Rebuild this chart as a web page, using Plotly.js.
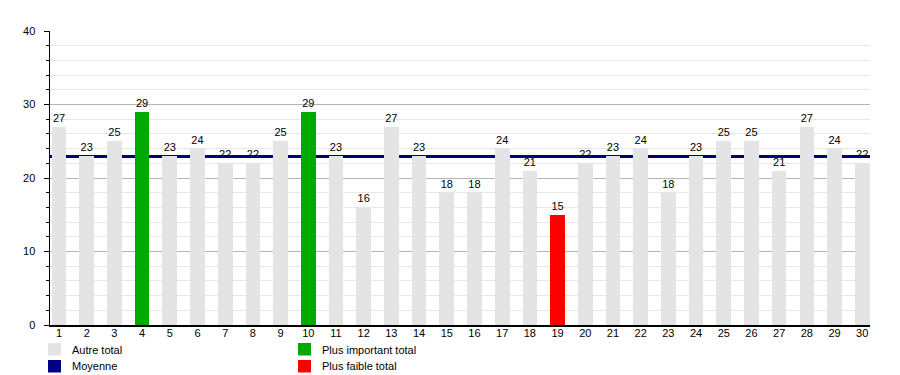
<!DOCTYPE html>
<html>
<head>
<meta charset="utf-8">
<script src="https://cdn.plot.ly/plotly-3.0.1.min.js"></script>
<style>html,body{margin:0;padding:0;background:#fff;}#chart{width:900px;height:375px;}</style>
</head>
<body>
<div id="chart"></div>
<script>
const categories = [1,2,3,4,5,6,7,8,9,10,11,12,13,14,15,16,17,18,19,20,21,22,23,24,25,26,27,28,29,30];
const totals = [27,23,25,29,23,24,22,22,25,29,23,16,27,23,18,18,24,21,15,22,23,24,18,23,25,25,21,27,24,22];
const legendLabels = ["Autre total", "Moyenne", "Plus important total", "Plus faible total"];

const GREY = "#e4e4e4", NAVY = "#000080", GREEN = "#00aa00", RED = "#ff0000";
const maxV = Math.max(...totals), minV = Math.min(...totals);
const mean = totals.reduce((a, b) => a + b, 0) / totals.length;
const colors = totals.map(v => v === maxV ? GREEN : (v === minV ? RED : GREY));

const trace = {
  type: "bar",
  x: categories,
  y: totals,
  width: 0.53,
  marker: {color: colors, line: {width: 0}},
  text: totals.map(String),
  textposition: "outside",
  textfont: {family: "Liberation Sans, Arial, sans-serif", size: 11, color: "#000"},
  cliponaxis: false,
  hoverinfo: "x+y",
  showlegend: false
};

const legendColors = [GREY, NAVY, GREEN, RED];
const legendPos = [[48, 343], [48, 360], [298, 343], [298, 360]];
const shapes = [{
  type: "line", xref: "paper", yref: "y", x0: 0, x1: 1, y0: mean, y1: mean,
  line: {color: NAVY, width: 3}, layer: "below"
}];
const annotations = [];
legendLabels.forEach((lab, i) => {
  const [px, py] = legendPos[i];
  const fx = (px - 50) / 820, fx2 = (px + 13 - 50) / 820;
  const fy = (325 - py) / 294, fy2 = (325 - py - 12.5) / 294;
  shapes.push({type: "rect", xref: "paper", yref: "paper", x0: fx, x1: fx2, y0: fy2, y1: fy,
    fillcolor: legendColors[i], line: {width: 0}});
  annotations.push({xref: "paper", yref: "paper", x: (px + 22 - 50) / 820, y: (325 - py - 6.5) / 294,
    xanchor: "left", yanchor: "middle", showarrow: false, text: lab,
    font: {family: "Liberation Sans, Arial, sans-serif", size: 11, color: "#000"}});
});

const layout = {
  width: 900, height: 375,
  margin: {l: 50, r: 30, t: 31, b: 50, pad: 0},
  paper_bgcolor: "#fff", plot_bgcolor: "#fff",
  font: {family: "Liberation Sans, Arial, sans-serif", size: 11, color: "#000"},
  showlegend: false,
  bargap: 0,
  xaxis: {
    range: [0.675, 30.28],
    tickmode: "array", tickvals: categories, ticktext: categories.map(String),
    showgrid: false, zeroline: false,
    showline: true, linecolor: "#000", linewidth: 1.5,
    ticks: "", ticklabelstandoff: -3,
    tickfont: {size: 11, family: "Liberation Sans, Arial, sans-serif"},
    fixedrange: true
  },
  yaxis: {
    range: [0, 40],
    tickmode: "linear", tick0: 0, dtick: 10,
    showgrid: true, gridcolor: "#b4b4b4", gridwidth: 1,
    zeroline: false,
    showline: true, linecolor: "#000", linewidth: 1.5,
    ticks: "outside", ticklen: 5, tickcolor: "#000", tickwidth: 1,
    ticklabelstandoff: 6,
    minor: {dtick: 2, showgrid: true, gridcolor: "#e6e6e6", gridwidth: 1,
            ticks: "outside", ticklen: 3, tickcolor: "#000", tickwidth: 1},
    tickfont: {size: 11, family: "Liberation Sans, Arial, sans-serif"},
    fixedrange: true
  },
  shapes: shapes,
  annotations: annotations
};

Plotly.newPlot("chart", [trace], layout, {displayModeBar: false, staticPlot: true});
</script>
</body>
</html>
